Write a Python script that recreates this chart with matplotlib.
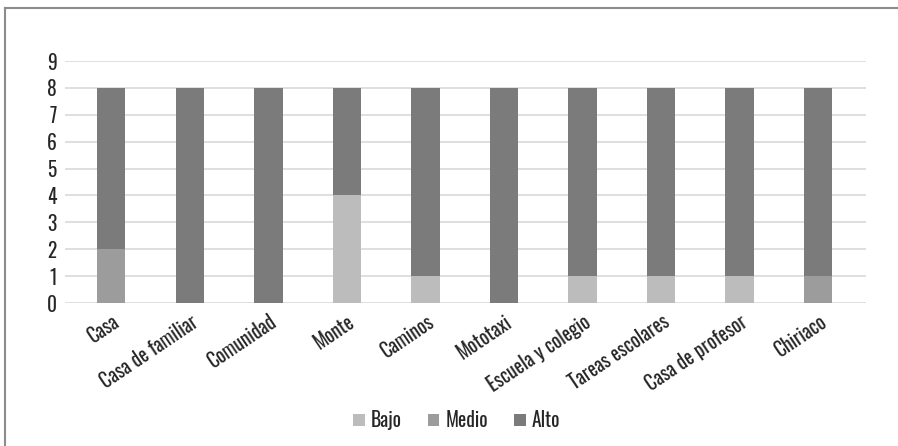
import matplotlib.pyplot as plt
import numpy as np
from matplotlib.lines import Line2D

plt.rcParams['font.family'] = ['Oswald', 'Liberation Sans Narrow', 'DejaVu Sans']

# data
categories = ['Casa', 'Casa de familiar', 'Comunidad', 'Monte', 'Caminos',
              'Mototaxi', 'Escuela y colegio', 'Tareas escolares',
              'Casa de profesor', 'Chiriaco']
bajo = [0, 0, 0, 4, 1, 0, 1, 1, 1, 0]
medio = [2, 0, 0, 0, 0, 0, 0, 0, 0, 1]
alto = [6, 8, 8, 4, 7, 8, 7, 7, 7, 7]

BAJO_COLOR = '#BCBCBC'
MEDIO_COLOR = '#9C9C9C'
ALTO_COLOR = '#7B7B7B'
GRID_COLOR = '#D9D9D9'
TEXT_COLOR = '#262626'

fig = plt.figure(figsize=(8.98, 4.46), dpi=100)
ax = fig.add_axes([0.0724, 0.3206, 0.892, 0.5426])

x = np.arange(len(categories))
w = 0.36
b1 = np.array(bajo)
b2 = b1 + np.array(medio)
ax.bar(x, bajo, w, color=BAJO_COLOR, label='Bajo', zorder=3)
ax.bar(x, medio, w, bottom=b1, color=MEDIO_COLOR, label='Medio', zorder=3)
ax.bar(x, alto, w, bottom=b2, color=ALTO_COLOR, label='Alto', zorder=3)

ax.set_ylim(0, 9)
ax.set_yticks(range(0, 10))
ax.set_xlim(-0.59, 9.61)
ax.set_xticks(x)
ax.set_xticklabels(categories, rotation=34, ha='right', rotation_mode='anchor')
ax.tick_params(axis='both', length=0, labelsize=14, colors=TEXT_COLOR)
ax.tick_params(axis='y', pad=6)
ax.tick_params(axis='x', pad=6)
ax.grid(axis='y', color=GRID_COLOR, linewidth=1.2, zorder=0)
for s in ax.spines.values():
    s.set_visible(False)

ax.legend(loc='center', bbox_to_anchor=(0.5083, 1 - 420 / 446),
          bbox_transform=fig.transFigure, ncol=3, frameon=False,
          fontsize=14, handlelength=0.6, handleheight=0.6,
          handletextpad=0.3, columnspacing=1.35, labelcolor=TEXT_COLOR)

# outer frame of the chart area (only left and top edges visible)
fx, fy = 5 / 898, 1 - 8 / 446
fig.add_artist(Line2D([fx, fx], [0, fy], transform=fig.transFigure,
                      color='#8C8C8C', linewidth=1.5))
fig.add_artist(Line2D([fx, 1], [fy, fy], transform=fig.transFigure,
                      color='#8C8C8C', linewidth=1.5))

fig.savefig('out.png', dpi=100)
